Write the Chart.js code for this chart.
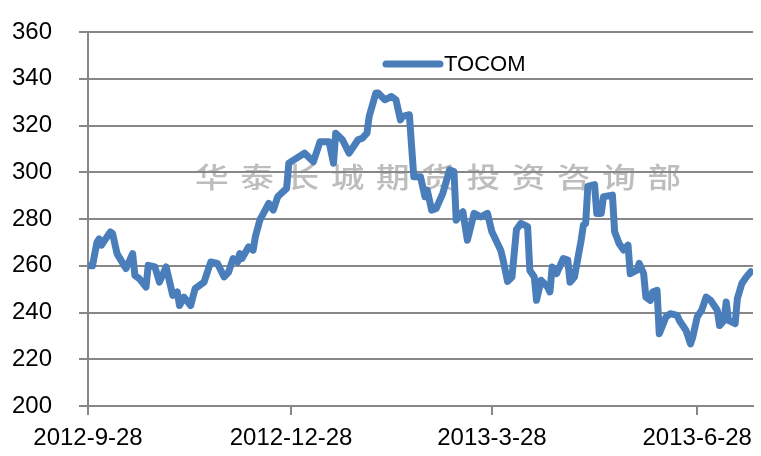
<!DOCTYPE html>
<html>
<head>
<meta charset="utf-8">
<script src="https://cdn.jsdelivr.net/npm/chart.js@4.4.1/dist/chart.umd.min.js"></script>
<style>
  html, body { margin: 0; padding: 0; background: #fff; }
  #wrap { width: 761px; height: 456px; }
</style>
</head>
<body>
<div id="wrap"><canvas id="myChart" width="761" height="456"></canvas></div>
<script>
/* global Chart */
const seriesName = "TOCOM";
const watermark = "华泰长城期货投资咨询部";

const dates = [
  "2012-09-28", "2012-09-30", "2012-10-02", "2012-10-03", "2012-10-04", "2012-10-08", "2012-10-09", "2012-10-11",
  "2012-10-15", "2012-10-18", "2012-10-19", "2012-10-21", "2012-10-24", "2012-10-25", "2012-10-28", "2012-10-30",
  "2012-11-02", "2012-11-05", "2012-11-07", "2012-11-08", "2012-11-10", "2012-11-13", "2012-11-15", "2012-11-19",
  "2012-11-22", "2012-11-25", "2012-11-28", "2012-11-30", "2012-12-02", "2012-12-04", "2012-12-05", "2012-12-06",
  "2012-12-09", "2012-12-11", "2012-12-12", "2012-12-14", "2012-12-18", "2012-12-20", "2012-12-22", "2012-12-26",
  "2012-12-27", "2013-01-03", "2013-01-07", "2013-01-10", "2013-01-14", "2013-01-16", "2013-01-17", "2013-01-20",
  "2013-01-23", "2013-01-25", "2013-01-27", "2013-01-29", "2013-01-31", "2013-02-01", "2013-02-04", "2013-02-05",
  "2013-02-08", "2013-02-11", "2013-02-13", "2013-02-15", "2013-02-16", "2013-02-19", "2013-02-21", "2013-02-24",
  "2013-02-26", "2013-02-27", "2013-03-01", "2013-03-03", "2013-03-06", "2013-03-09", "2013-03-11", "2013-03-12",
  "2013-03-15", "2013-03-17", "2013-03-20", "2013-03-23", "2013-03-26", "2013-03-28", "2013-04-01", "2013-04-02",
  "2013-04-04", "2013-04-06", "2013-04-08", "2013-04-10", "2013-04-13", "2013-04-14", "2013-04-16", "2013-04-17",
  "2013-04-19", "2013-04-22", "2013-04-23", "2013-04-24", "2013-04-26", "2013-04-29", "2013-05-01", "2013-05-02",
  "2013-05-04", "2013-05-07", "2013-05-08", "2013-05-09", "2013-05-10", "2013-05-13", "2013-05-14", "2013-05-16",
  "2013-05-17", "2013-05-21", "2013-05-22", "2013-05-24", "2013-05-26", "2013-05-28", "2013-05-29", "2013-06-01",
  "2013-06-02", "2013-06-04", "2013-06-05", "2013-06-07", "2013-06-08", "2013-06-10", "2013-06-11", "2013-06-14",
  "2013-06-16", "2013-06-19", "2013-06-20", "2013-06-23", "2013-06-25", "2013-06-26", "2013-06-28", "2013-06-30",
  "2013-07-02", "2013-07-04", "2013-07-07", "2013-07-08", "2013-07-10", "2013-07-11", "2013-07-12", "2013-07-15",
  "2013-07-16", "2013-07-18", "2013-07-20", "2013-07-22"
];

const values = [
  260, 260, 270, 271.5, 268.8, 274.5, 273.8, 265.2,
  258.8, 265.2, 255.9, 254.5, 250.9, 260.2, 259.5, 253,
  259.5, 247.3, 248.8, 243, 246.6, 243, 250.2, 253,
  261.6, 261, 255.2, 257.3, 263.1, 261.6, 265.2, 263.1,
  268.1, 266.7, 272.4, 279.5, 286.7, 283.8, 289.5, 293.1,
  303.9, 308.2, 304.5, 313.1, 313.1, 303.9, 316.7, 313.9,
  308.2, 311, 313.9, 314.6, 316.7, 323.9, 333.9, 333.9,
  331, 332.4, 331, 322.4, 323.9, 324.6, 298.1, 298.1,
  289.5, 292.4, 283.8, 284.5, 291, 301, 300.3, 279.5,
  283.1, 270.9, 282.4, 280.9, 282.4, 274.5, 266.5, 262.5,
  253.3, 255.2, 275.5, 278.1, 276.7, 258, 255.2, 245.2,
  253.8, 250.9, 248.8, 259.5, 256.6, 263.1, 262.4, 253,
  255.2, 271, 277.4, 278.1, 294, 294.7, 282.4, 282.4,
  289.5, 290.2, 274.5, 269.5, 266.7, 268.8, 256.6, 258.1,
  261, 256.6, 246.6, 245.2, 248.8, 249.5, 230.9, 238.1,
  239.5, 238.8, 236.6, 232.3, 226.6, 229.5, 238.1, 241,
  246.6, 245.2, 241, 234.4, 236.6, 244.5, 236.6, 235.2,
  246, 252.4, 255.2, 257.4
];

const tickLabels = ["2012-9-28", "2012-12-28", "2013-3-28", "2013-6-28"];
const yTicks = [200, 220, 240, 260, 280, 300, 320, 340, 360];

const DAY = 86400000;
function toDay(s) {
  const p = s.split("-").map(Number);
  return (Date.UTC(p[0], p[1] - 1, p[2]) - Date.UTC(2012, 8, 28)) / DAY;
}
const tickDays = tickLabels.map(toDay);
const points = dates.map((d, i) => ({ x: toDay(d), y: values[i] }));

const gridColor = "#878787";
const lineColor = "#4a7ebb";
const fontFamily = "'Liberation Sans', Arial, sans-serif";

// watermark behind everything, legend drawn inside the plot
const extras = {
  id: "extras",
  beforeDraw(chart) {
    const ctx = chart.ctx;
    ctx.save();
    ctx.fillStyle = "#bdbdbd";
    ctx.font = "500 28px 'Noto Sans CJK SC'";
    ctx.textBaseline = "middle";
    ctx.textAlign = "left";
    ctx.translate(195, 177);
    ctx.scale(1.2, 1);
    ctx.letterSpacing = "9.7px";
    ctx.fillText(watermark, 0, 0);
    ctx.restore();
  },
  afterDraw(chart) {
    const ctx = chart.ctx;
    ctx.save();
    ctx.strokeStyle = lineColor;
    ctx.lineWidth = 7;
    ctx.lineCap = "round";
    ctx.beginPath();
    ctx.moveTo(386, 64);
    ctx.lineTo(440, 64);
    ctx.stroke();
    ctx.fillStyle = "#000";
    ctx.font = "22px " + fontFamily;
    ctx.textBaseline = "middle";
    ctx.fillText(seriesName, 444, 65);
    ctx.restore();
  }
};

const ctx = document.getElementById("myChart").getContext("2d");
new Chart(ctx, {
  type: "line",
  data: {
    datasets: [{
      label: seriesName,
      data: points,
      borderColor: lineColor,
      backgroundColor: lineColor,
      borderWidth: 7,
      borderJoinStyle: "round",
      borderCapStyle: "round",
      pointRadius: 0,
      tension: 0,
      fill: false
    }]
  },
  options: {
    responsive: false,
    animation: false,
    devicePixelRatio: 1,
    layout: { padding: { top: 32, right: 8, bottom: 0, left: 0 } },
    plugins: {
      legend: { display: false },
      tooltip: { enabled: false }
    },
    scales: {
      x: {
        type: "linear",
        min: 0,
        max: 298,
        afterBuildTicks: (scale) => { scale.ticks = tickDays.map(v => ({ value: v })); },
        afterFit: (scale) => {
          scale.height = 50;
          scale.paddingLeft = 0;
          scale.paddingRight = 0;
        },
        ticks: {
          autoSkip: false,
          maxRotation: 0,
          padding: 9,
          color: "#000",
          font: { family: fontFamily, size: 24 },
          callback: (v) => tickLabels[tickDays.indexOf(v)]
        },
        grid: { drawOnChartArea: false, drawTicks: true, tickLength: 9, color: gridColor, lineWidth: 2 },
        border: { display: true, color: gridColor, width: 2 }
      },
      y: {
        min: 200,
        max: 360,
        afterBuildTicks: (scale) => { scale.ticks = yTicks.map(v => ({ value: v })); },
        afterFit: (scale) => {
          scale.width = 88;
          scale.paddingTop = 0;
          scale.paddingBottom = 0;
        },
        ticks: {
          padding: 27,
          color: "#000",
          font: { family: fontFamily, size: 24 }
        },
        grid: { color: gridColor, lineWidth: 2, tickLength: 9 },
        border: { display: true, color: gridColor, width: 2 }
      }
    }
  },
  plugins: [extras]
});
</script>
</body>
</html>
